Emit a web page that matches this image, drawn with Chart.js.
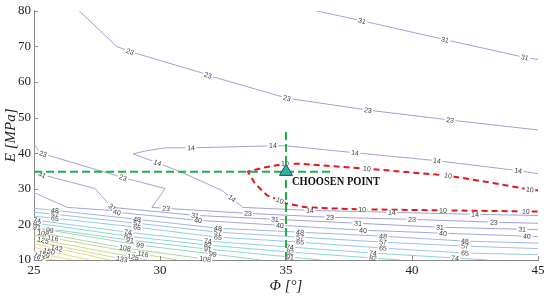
<!DOCTYPE html>
<html><head><meta charset="utf-8">
<script src="https://cdn.jsdelivr.net/npm/chart.js@4"></script>
<style>html,body{margin:0;padding:0;background:#fff}</style>
</head><body>
<canvas id="c" width="550" height="296"></canvas>
<script>
// ---- axes ----
const xTicks = [25, 30, 35, 40, 45];
const yTicks = [10, 20, 30, 40, 50, 60, 70, 80];

// ---- contour polylines (Phi [deg], E [MPa]) ----
const c10 = [[45,29.5],[44.68,29.8],[43.1,31.75],[41.43,33.7],[38.21,35.65],[35.56,37.05],[34.96,37.05],[34.09,35.93],[33.49,34.82],[33.77,31.47],[34.25,28.13],[34.76,26.73],[35.0,25.9],[35.83,24.78],[36.75,24.5],[38.02,24.22],[41.23,23.94],[44.52,23.66],[45,23.6]];
const c14 = [[45,34.26],[44.21,35.1],[40.99,37.89],[37.74,40.12],[35,42.07],[34.48,42.07],[31.23,41.51],[30.2,41.5],[29.4,40.6],[28.93,39.8],[29.9,37.33],[30.79,34.82],[31.59,32.31],[32.46,29.52],[32.86,27.29],[33.29,24.78],[35.95,23.94],[39.2,23.39],[42.5,22.83],[45,22.5]];
const c23a = [[26.79,80],[28.29,69.96],[28.81,68.56],[31.59,62.7],[31.9,61.87],[35.04,55.45],[38.25,52.11],[41.51,49.32],[45,46.53]];
const c23b = [[25,42.6],[25.24,40.1],[25.36,39.84],[28.53,33.15],[30.2,30.08],[29.68,24.78],[30.24,24.5],[33.49,23.1],[36.75,21.99],[40,21.43],[43.25,20.6],[45,20.32]];
const c31a = [[36.2,80],[38.02,77.2],[41.31,71.9],[44.48,66.89],[45,66.33]];
const c31b = [[25,35.1],[25.32,33.98],[27.42,30.08],[28.02,25.34],[28.1,24.78],[31.39,22.55],[34.56,21.43],[37.86,20.32],[41.11,19.2],[44.37,18.64],[45,18.5]];
const c40 = [[25,28.96],[26.31,24.78],[28.02,23.94],[28.29,23.39],[31.51,21.15],[34.76,19.76],[38.06,18.37],[41.23,17.53],[44.56,16.69],[45,16.6]];
const c48 = [[25,24.5],[25.83,23.94],[29.09,21.43],[32.3,18.92],[35.56,17.81],[38.85,16.69],[42.1,15.3],[45,14.74]];
const c57 = [[25,23.4],[25.83,22.83],[29.09,20.32],[32.3,17.81],[35.56,16.41],[38.85,15.02],[42.1,13.9],[45,13.2]];
const c65 = [[25,22.3],[25.83,21.71],[29.09,19.2],[32.3,16.41],[35.56,15.02],[38.85,13.35],[42.1,11.95],[45,11.5]];
const c74 = [[25,21.3],[25.12,21.15],[28.73,17.81],[31.9,15.3],[35.16,13.63],[38.45,11.95],[41.71,10.56],[43.0,10]];
const c82 = [[25,20.45],[25.12,20.32],[28.73,16.69],[31.9,14.18],[35.16,12.23],[38.45,10.56],[39.55,10]];
const c91 = [[25,19.3],[25.12,19.2],[28.81,15.58],[31.9,13.07],[35.16,10.84],[36.4,10]];
const c99 = [[25,18.85],[25.63,18.37],[29.21,14.18],[32.1,11.67],[34.0,10]];
const c108 = [[25,17.9],[25.36,17.53],[28.61,13.35],[31.79,10.28],[32.1,10]];
const c116 = [[25,17.0],[25.75,16.13],[29.33,11.67],[30.67,10]];
const c125 = [[25,16.2],[25.36,15.58],[28.93,10.84],[29.5,10]];
const c133 = [[25,15.3],[28.49,10.28],[28.68,10]];
const c142 = [[25,14.5],[25.9,13.3],[28.0,10]];
const c150 = [[25,13.6],[25.6,12.5],[27.2,10]];
const c159 = [[25,12.7],[25.4,11.6],[26.5,10]];
const c167 = [[25,11.8],[25.2,10.8],[25.8,10]];
const c176 = [[25,11.0],[25.4,10]];
const c184 = [[25,10.4],[25.15,10]];

const contours = [
  [14,c14],[23,c23a],[23,c23b],[31,c31a],[31,c31b],[40,c40],[48,c48],[57,c57],[65,c65],
  [74,c74],[82,c82],[91,c91],[99,c99],[108,c108],[116,c116],[125,c125],[133,c133],
  [142,c142],[150,c150],[159,c159],[167,c167],[176,c176],[184,c184]
];

// ---- contour labels: [level, Phi, E] ----
const contourLabels = [
  [10,34.96,37.05],[10,38.21,35.65],[10,41.43,33.7],[10,44.68,29.8],[10,34.76,26.73],[10,38.02,24.22],[10,41.23,23.94],[10,44.52,23.66],
  [14,31.23,41.51],[14,34.48,42.07],[14,37.74,40.12],[14,40.99,37.89],[14,44.21,35.1],[14,29.9,37.33],[14,32.86,27.29],[14,35.95,23.94],[14,39.2,23.39],[14,42.5,22.83],
  [23,28.81,68.56],[23,31.9,61.87],[23,35.04,55.45],[23,38.25,52.11],[23,41.51,49.32],[23,25.36,39.84],[23,28.53,33.15],[23,30.24,24.5],[23,33.49,23.1],[23,36.75,21.99],[23,40,21.43],[23,43.25,20.6],
  [31,38.02,77.2],[31,41.31,71.9],[31,44.48,66.89],[31,25.32,33.98],[31,28.1,24.78],[31,31.39,22.55],[31,34.56,21.43],[31,37.86,20.32],[31,41.11,19.2],[31,44.37,18.64],
  [40,28.29,23.39],[40,31.51,21.15],[40,34.76,19.76],[40,38.06,18.37],[40,41.23,17.53],[40,44.56,16.69],
  [48,25.83,23.94],[48,29.09,21.43],[48,32.3,18.92],[48,35.56,17.81],[48,38.85,16.69],[48,42.1,15.3],
  [57,25.83,22.83],[57,29.09,20.32],[57,32.3,17.81],[57,35.56,16.41],[57,38.85,15.02],[57,42.1,13.9],
  [65,25.83,21.71],[65,29.09,19.2],[65,32.3,16.41],[65,35.56,15.02],[65,38.85,13.35],[65,42.1,11.95],
  [74,25.12,21.15],[74,28.73,17.81],[74,31.9,15.3],[74,35.16,13.63],[74,38.45,11.95],[74,41.71,10.56],
  [82,25.12,20.32],[82,28.73,16.69],[82,31.9,14.18],[82,35.16,12.23],[82,38.45,10.56],
  [91,25.12,19.2],[91,28.81,15.58],[91,31.9,13.07],[91,35.16,10.84],
  [99,25.63,18.37],[99,29.21,14.18],[99,32.1,11.67],
  [108,25.36,17.53],[108,28.61,13.35],[108,31.79,10.28],
  [116,25.75,16.13],[116,29.33,11.67],
  [125,25.36,15.58],[125,28.93,10.84],
  [133,28.49,10.28],
  [142,25.9,13.3],[150,25.6,12.5],[159,25.4,11.6],[167,25.2,10.8]
];

// ---- chosen point & guides ----
const chosenPoint = [35, 34.82];
const guideH = [[25,34.82],[36.83,34.82]];
const guideV = [[35,10],[35,46.5]];
const pointText = 'CHOOSEN POINT';

// ---- styles ----
const levelColors = {14:'#a5a2d6',23:'#a3a1d7',31:'#a2a3d9',40:'#a3aadc',48:'#a2b6e2',57:'#9dc2e6',65:'#98cbe6',
  74:'#92d1e0',82:'#8fd4d5',91:'#92d6c6',99:'#9bd8b5',108:'#acd8a3',116:'#bdd898',125:'#ccd892',133:'#dad890',
  142:'#e5d88d',150:'#ebd889',159:'#efda86',167:'#f1dc84',176:'#f3e082',184:'#f4e480'};

const toXY = pts => pts.map(p => ({x:p[0], y:p[1]}));
const datasets = [];
contours.forEach(([lv, pts]) => datasets.push({
  data: toXY(pts), showLine:true, borderColor: levelColors[lv], borderWidth:1, pointRadius:0, tension:0, order:10, lvl:lv
}));
datasets.push({id:'c10', data: toXY(c10), showLine:true, borderColor:'#e4161c', borderWidth:2, borderDash:[6,4], pointRadius:0, tension:0, order:5});
datasets.push({data: toXY(guideH), showLine:true, borderColor:'#22ae4a', borderWidth:2, borderDash:[8,4], pointRadius:0, order:3});
datasets.push({data: toXY(guideV), showLine:true, borderColor:'#22ae4a', borderWidth:2, borderDash:[8,4], pointRadius:0, order:3});
datasets.push({data: toXY([chosenPoint]), showLine:false, pointStyle:'triangle', pointRadius:7.5, backgroundColor:'#36b09a', borderColor:'#1d4f7a', borderWidth:1, order:1});

function segDist(px,py,x1,y1,x2,y2){
  const dx=x2-x1, dy=y2-y1, l=dx*dx+dy*dy;
  let t = l ? ((px-x1)*dx+(py-y1)*dy)/l : 0; t=Math.max(0,Math.min(1,t));
  const qx=x1+t*dx, qy=y1+t*dy; return Math.hypot(px-qx,py-qy);
}

const labelPlugin = {
  id:'clabels',
  afterDatasetDraw(chart, args){
    if (chart.data.datasets[args.index].id !== 'c10') return;
    const ctx = chart.ctx, xs = chart.scales.x, ys = chart.scales.y;
    const all = contours.concat([[10, c10]]);
    ctx.save();
    ctx.font = '7px "Liberation Sans", Arial, sans-serif';
    ctx.textAlign='center'; ctx.textBaseline='middle';
    for (const [lv, x, y] of contourLabels){
      const px = xs.getPixelForValue(x), py = ys.getPixelForValue(y);
      let best = Infinity, ang = 0;
      for (const [L, pts] of all){
        if (L !== lv) continue;
        for (let i=0;i<pts.length-1;i++){
          const x1=xs.getPixelForValue(pts[i][0]), y1=ys.getPixelForValue(pts[i][1]);
          const x2=xs.getPixelForValue(pts[i+1][0]), y2=ys.getPixelForValue(pts[i+1][1]);
          const d = segDist(px,py,x1,y1,x2,y2);
          if (d < best){ best=d; ang=Math.atan2(y2-y1,x2-x1); }
        }
      }
      if (ang > Math.PI/2) ang -= Math.PI;
      if (ang < -Math.PI/2) ang += Math.PI;
      const t = String(lv), w = ctx.measureText(t).width;
      ctx.save(); ctx.translate(px,py); ctx.rotate(ang);
      ctx.fillStyle='#fff'; ctx.fillRect(-w/2-1.5,-2,w+3,4);
      ctx.fillStyle='#3c3c3c'; ctx.fillText(t,0,0.5);
      ctx.restore();
    }
    ctx.restore();
  }
};

const tickPlugin = {
  id:'inticks',
  afterDraw(chart){
    const {ctx, chartArea:a, scales:{x,y}} = chart;
    ctx.save(); ctx.strokeStyle='#8a8a8a'; ctx.lineWidth=1; ctx.beginPath();
    for (const v of xTicks){ const p=Math.round(x.getPixelForValue(v))+0.5; ctx.moveTo(p,a.bottom); ctx.lineTo(p,a.bottom-4); }
    for (const v of yTicks){ const p=Math.round(y.getPixelForValue(v))+0.5; ctx.moveTo(a.left,p); ctx.lineTo(a.left+4,p); }
    ctx.stroke();
    // annotation text
    const px = x.getPixelForValue(chosenPoint[0]), py = y.getPixelForValue(chosenPoint[1]);
    ctx.font = 'bold 12.5px "Liberation Serif", "DejaVu Serif", serif';
    ctx.fillStyle='#111'; ctx.textAlign='left'; ctx.textBaseline='middle';
    const w = ctx.measureText(pointText).width;
    ctx.translate(px+6, py+10.5);
    ctx.scale(Math.min(1, 88/w), 1);
    ctx.fillText(pointText, 0, 0);
    ctx.restore();
  }
};

new Chart(document.getElementById('c').getContext('2d'), {
  type:'scatter',
  data:{datasets},
  options:{
    responsive:false, animation:false, devicePixelRatio:1,
    layout:{padding:{left:0,right:12,top:9,bottom:0}},
    plugins:{legend:{display:false}, tooltip:{enabled:false}},
    scales:{
      x:{type:'linear', min:25, max:45,
        afterBuildTicks: s => { s.ticks = xTicks.map(v => ({value:v})); },
        afterFit: s => { s.height = 36; },
        grid:{display:false, drawTicks:false},
        border:{display:true, color:'#8a8a8a', width:1},
        ticks:{padding:3, autoSkip:false, maxRotation:0, color:'#222', font:{family:'"Liberation Serif", serif', size:13}},
        title:{display:true, text:'Φ [°]', color:'#222', padding:{top:0,bottom:1}, font:{family:'"Liberation Serif", serif', size:15, style:'italic'}}
      },
      y:{type:'linear', min:10, max:80,
        afterBuildTicks: s => { s.ticks = yTicks.map(v => ({value:v})); },
        afterFit: s => { s.width = 34; },
        grid:{display:false, drawTicks:false},
        border:{display:true, color:'#8a8a8a', width:1},
        ticks:{padding:3, color:'#222', font:{family:'"Liberation Serif", serif', size:13}},
        title:{display:true, text:'E [MPa]', color:'#222', padding:{top:2,bottom:0}, font:{family:'"Liberation Serif", serif', size:15, style:'italic'}}
      }
    }
  },
  plugins:[labelPlugin, tickPlugin]
});
</script>
</body></html>
